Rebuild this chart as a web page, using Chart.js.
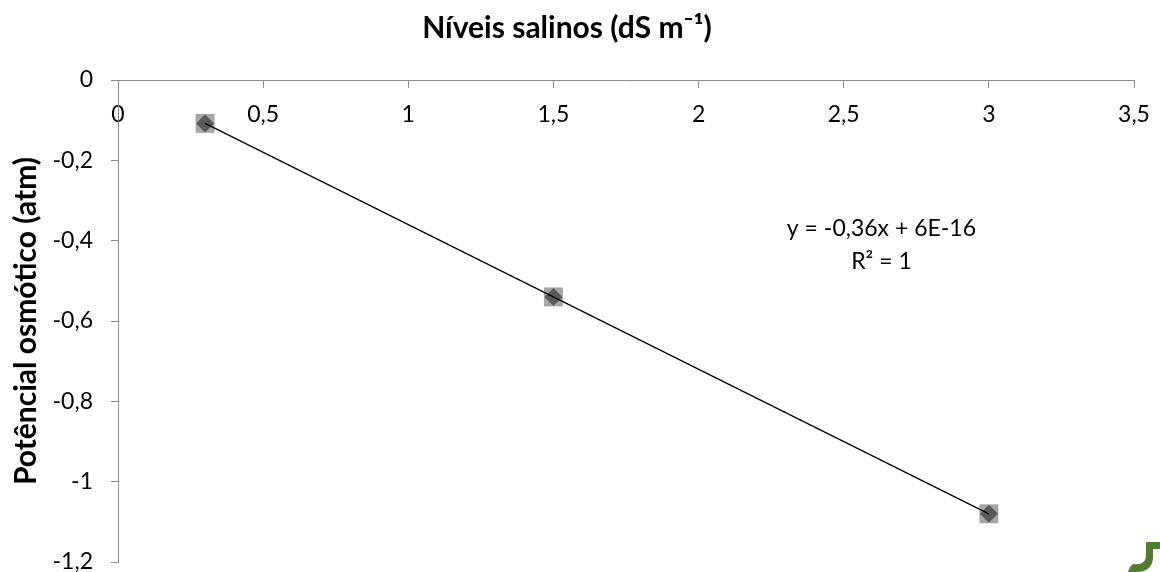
<!DOCTYPE html>
<html>
<head>
<meta charset="utf-8">
<script src="https://cdn.jsdelivr.net/npm/chart.js@4/dist/chart.umd.min.js"></script>
<style>
  html, body { margin: 0; padding: 0; background: #fff; }
  #wrap { width: 1160px; height: 572px; }
</style>
</head>
<body>
<div id="wrap"><canvas id="grafico" width="1160" height="572"></canvas></div>
<script>
// dados
const nivelSalino = [0.3, 1.5, 3];
const potencialOsmotico = [-0.108, -0.54, -1.08];
const eixoX = { min: 0, max: 3.5, passo: 0.5 };
const eixoY = { min: -1.2, max: 0, passo: 0.2 };
const tituloY = 'Potêncial osmótico (atm)';
const equacao = ['y = -0,36x + 6E-16', 'R² = 1'];
const posEquacao = { x: 2.63, y: -0.37 };

const fonte = 'Lato, "Open Sans", sans-serif';
const corEixo = '#8c8c8c';

// linha de tendência (mínimos quadrados) entre o primeiro e o último ponto
const n = nivelSalino.length;
const mx = nivelSalino.reduce((a, b) => a + b, 0) / n;
const my = potencialOsmotico.reduce((a, b) => a + b, 0) / n;
let sxy = 0, sxx = 0;
nivelSalino.forEach((x, i) => { sxy += (x - mx) * (potencialOsmotico[i] - my); sxx += (x - mx) ** 2; });
const incl = sxy / sxx;
const inter = my - incl * mx;
const xs = [Math.min(...nivelSalino), Math.max(...nivelSalino)];
const tendencia = xs.map(x => ({ x, y: inter + incl * x }));

const pontos = nivelSalino.map((x, i) => ({ x, y: potencialOsmotico[i] }));

const virgula = v => String(Math.round(v * 10) / 10).replace('.', ',');

const textos = {
  id: 'textos',
  afterDatasetsDraw(chart) {
    const { ctx, scales, chartArea } = chart;
    const cx = scales.x.getPixelForValue(posEquacao.x);
    const cy = scales.y.getPixelForValue(posEquacao.y);
    ctx.save();
    ctx.fillStyle = '#000';
    ctx.font = '23px ' + fonte;
    ctx.textAlign = 'center';
    ctx.textBaseline = 'middle';
    equacao.forEach((t, i) => ctx.fillText(t, cx, cy + i * 33));

    // título do eixo y
    ctx.translate(26, (chartArea.top + chartArea.bottom) / 2);
    ctx.rotate(-Math.PI / 2);
    ctx.font = 'bold 30px ' + fonte;
    ctx.fillText(tituloY, 0, 0);
    ctx.restore();
  }
};

// marca verde no canto inferior direito
const logo = {
  id: 'logo',
  afterDraw(chart) {
    const ctx = chart.ctx;
    ctx.save();
    ctx.fillStyle = '#4f7f2e';
    ctx.beginPath();
    ctx.moveTo(1146, 542);
    ctx.lineTo(1160, 542);
    ctx.lineTo(1160, 549);
    ctx.lineTo(1153, 549);
    ctx.lineTo(1153, 558);
    ctx.quadraticCurveTo(1152, 572, 1136, 572);
    ctx.lineTo(1128, 572);
    ctx.quadraticCurveTo(1130, 566, 1133, 564);
    ctx.quadraticCurveTo(1145, 566, 1146, 556);
    ctx.closePath();
    ctx.fill();
    ctx.restore();
  }
};

new Chart(document.getElementById('grafico'), {
  type: 'scatter',
  data: {
    datasets: [
      {
        type: 'line',
        data: tendencia,
        borderColor: '#000',
        borderWidth: 1.3,
        pointRadius: 0,
        fill: false
      },
      {
        data: pontos,
        pointStyle: 'rectRot',
        pointRadius: 9,
        backgroundColor: '#595959',
        borderColor: '#595959',
        borderWidth: 0
      },
      {
        data: pontos,
        pointStyle: 'rect',
        pointRadius: 13.4,
        backgroundColor: '#a6a6a6',
        borderColor: '#a6a6a6',
        borderWidth: 0
      }
    ]
  },
  options: {
    responsive: false,
    animation: false,
    layout: { autoPadding: false, padding: { left: 0, right: 26, top: 0, bottom: 10 } },
    plugins: {
      legend: { display: false },
      tooltip: { enabled: false },
      title: {
        display: true,
        text: 'Níveis salinos (dS m⁻¹)',
        color: '#000',
        font: { family: fonte, size: 30, weight: 'bold' },
        padding: { top: 10, bottom: 34 }
      }
    },
    scales: {
      x: {
        type: 'linear',
        position: { y: 0 },
        min: eixoX.min,
        max: eixoX.max,
        afterFit(scale) { scale.paddingLeft = 0; scale.paddingRight = 0; },
        ticks: {
          stepSize: eixoX.passo,
          color: '#000',
          font: { family: fonte, size: 23 },
          padding: 14,
          maxRotation: 0,
          callback: virgula
        },
        grid: { drawOnChartArea: false, drawTicks: true, tickLength: 7, color: corEixo },
        border: { color: corEixo, width: 1 }
      },
      y: {
        type: 'linear',
        position: 'left',
        min: eixoY.min,
        max: eixoY.max,
        afterFit(scale) { scale.width = 118; scale.paddingTop = 0; scale.paddingBottom = 0; },
        ticks: {
          stepSize: eixoY.passo,
          color: '#000',
          font: { family: fonte, size: 23 },
          padding: 18,
          callback: virgula
        },
        grid: { drawOnChartArea: false, drawTicks: true, tickLength: 7, color: corEixo },
        border: { color: corEixo, width: 1 }
      }
    }
  },
  plugins: [textos, logo]
});
</script>
</body>
</html>
